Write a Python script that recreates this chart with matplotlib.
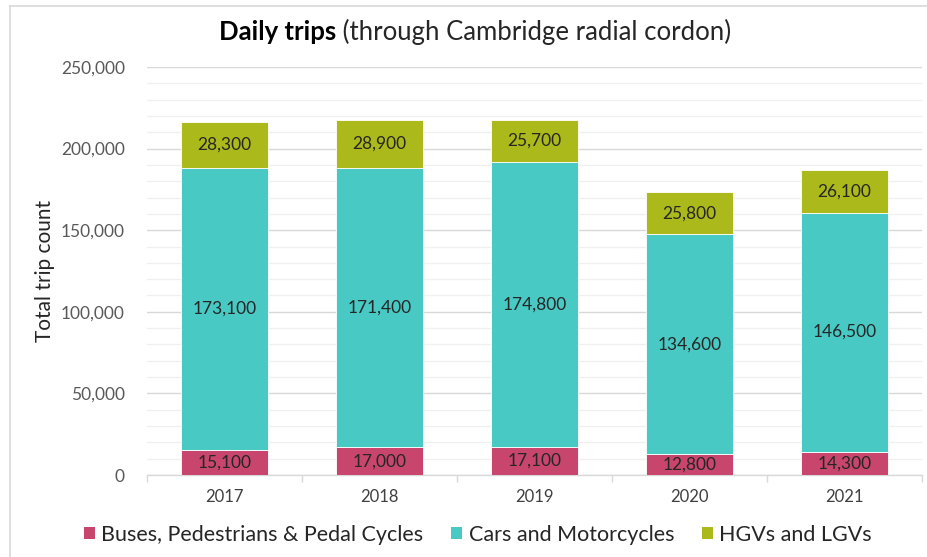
import matplotlib
matplotlib.use("Agg")
import matplotlib.pyplot as plt
from matplotlib.ticker import MultipleLocator, FuncFormatter, FixedLocator
from matplotlib.lines import Line2D
from matplotlib.patches import Rectangle
import numpy as np

years = ["2017", "2018", "2019", "2020", "2021"]
buses = [15100, 17000, 17100, 12800, 14300]
cars = [173100, 171400, 174800, 134600, 146500]
hgvs = [28300, 28900, 25700, 25800, 26100]
series_names = ["Buses, Pedestrians & Pedal Cycles", "Cars and Motorcycles", "HGVs and LGVs"]
colors = ["#C8466E", "#48C9C4", "#ACB91A"]

FONT = "Lato"
plt.rcParams['font.family'] = [FONT, 'DejaVu Sans']

fig = plt.figure(figsize=(9.28, 5.57), dpi=100)
ax = fig.add_axes([147/928, 1-475/557, (922-147)/928, (475-67)/557])

x = np.arange(len(years))
bottom = np.zeros(len(years))
for vals, col, name in zip([buses, cars, hgvs], colors, series_names):
    ax.bar(x, vals, width=0.56, bottom=bottom, color=col, edgecolor='white', linewidth=0.6, label=name, zorder=3)
    for xi, b, v in zip(x, bottom, vals):
        ax.text(xi, b + v/2, f"{v:,}", ha='center', va='center', fontsize=12.5,
                color='#262626', fontweight='normal', zorder=4)
    bottom = bottom + np.array(vals)

ax.set_xlim(-0.5, len(years)-0.5)
ax.set_ylim(0, 250000)
ax.yaxis.set_major_locator(MultipleLocator(50000))
ax.yaxis.set_minor_locator(MultipleLocator(10000))
ax.yaxis.set_major_formatter(FuncFormatter(lambda v, p: f"{int(v):,}"))
ax.grid(axis='y', which='major', color='#D9D9D9', linewidth=1.0, zorder=0)
ax.grid(axis='y', which='minor', color='#F0F0F0', linewidth=1.0, zorder=0)
ax.set_axisbelow(True)

ax.set_xticks(x)
ax.set_xticklabels(years)
ax.xaxis.set_minor_locator(FixedLocator(np.arange(-0.5, len(years), 1.0)))
ax.tick_params(axis='x', which='major', length=0, pad=10, labelsize=12, labelcolor='#404040')
ax.tick_params(axis='x', which='minor', length=5, color='#D9D9D9', width=1.0)
ax.tick_params(axis='y', which='both', length=0, pad=16, labelsize=12.5, labelcolor='#595959')

for s in ['top', 'right', 'left']:
    ax.spines[s].set_visible(False)
ax.spines['bottom'].set_color('#D9D9D9')
ax.spines['bottom'].set_linewidth(1.0)

ax.set_ylabel("Total trip count", fontsize=15, color='#262626', labelpad=4)

# Title: bold part + regular part
ty = 1-32/557
t1 = fig.text(0.0, ty, "Daily trips", fontsize=18.5, fontweight='bold', color='#000000', va='center', ha='left')
t2 = fig.text(0.0, ty, " (through Cambridge radial cordon)", fontsize=18.5, color='#262626', va='center', ha='left')
fig.canvas.draw()
r = fig.canvas.get_renderer()
w1 = t1.get_window_extent(r).width
w2 = t2.get_window_extent(r).width
start = 475 - (w1 + w2)/2
t1.set_x(start/928)
t2.set_x((start + w1)/928)

# Legend
handles = [Rectangle((0, 0), 1, 1, facecolor=c) for c in colors]
leg = fig.legend(handles, series_names, loc='center', bbox_to_anchor=(478/928, 1-535/557), ncol=3,
                 frameon=False, fontsize=15.5, handlelength=0.5, handleheight=0.5, handletextpad=0.3,
                 columnspacing=1.3)
for t in leg.get_texts():
    t.set_color('#262626')

# Figure border lines (top and left)
fig.add_artist(Line2D([10/928, 1.0], [1-6/557, 1-6/557], color='#D9D9D9', linewidth=1.2, transform=fig.transFigure))
fig.add_artist(Line2D([10/928, 10/928], [0.0, 1-6/557], color='#D9D9D9', linewidth=1.2, transform=fig.transFigure))

fig.savefig("out.png", dpi=100)
